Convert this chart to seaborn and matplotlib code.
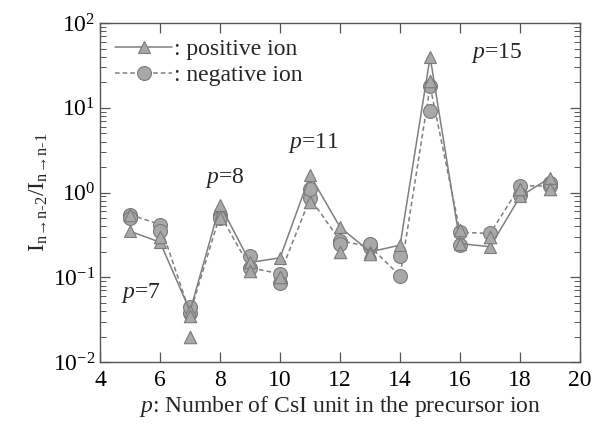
import numpy as np
import pandas as pd
import matplotlib
matplotlib.use("Agg")
import matplotlib.pyplot as plt
import seaborn as sns
from matplotlib.ticker import LogLocator, NullFormatter, FixedLocator

# Precursor size p
p_units = [5, 6, 7, 8, 9, 10, 11, 12, 13, 14, 15, 16, 17, 18, 19]

# Intensity ratio I(n->n-2)/I(n->n-1), connected run
pos_main = [0.35, 0.26, 0.040, 0.72, 0.15, 0.17, 1.6, 0.39, 0.20, 0.24, 40.0, 0.25, 0.23, 0.90, 1.5]
neg_main = [0.55, 0.42, 0.038, 0.55, 0.13, 0.11, 0.86, 0.27, 0.23, 0.104, 18.0, 0.34, 0.33, 1.2, 1.2]

# Additional measurements (markers only)
pos_extra_p = [5, 6, 7, 7, 8, 9, 10, 11, 12, 13, 15, 16, 17, 18, 19]
pos_extra = [0.55, 0.30, 0.020, 0.035, 0.50, 0.12, 0.10, 0.78, 0.20, 0.19, 21.0, 0.36, 0.30, 1.1, 1.1]
neg_extra_p = [5, 6, 7, 8, 9, 10, 11, 12, 13, 14, 15, 16, 18, 19]
neg_extra = [0.50, 0.35, 0.045, 0.50, 0.18, 0.085, 1.1, 0.25, 0.25, 0.18, 9.1, 0.24, 0.95, 1.3]

legend_labels = [": positive ion", ": negative ion"]
xlabel_text = "$p$: Number of CsI unit in the precursor ion"
ylabel_text = r"I$_{\mathrm{n\!\rightarrow\!n\text{-}2}}$/I$_{\mathrm{n\!\rightarrow\!n\text{-}1}}$"

sns.set_style("ticks")
plt.rcParams["font.family"] = ["Liberation Serif", "DejaVu Serif"]
plt.rcParams["mathtext.fontset"] = "custom"
plt.rcParams["mathtext.rm"] = "Liberation Serif"
plt.rcParams["mathtext.it"] = "Liberation Serif:italic"

FS = 17

main = pd.DataFrame({
    "p": p_units * 2,
    "ratio": pos_main + neg_main,
    "ion": ["positive"] * len(p_units) + ["negative"] * len(p_units),
})
pos_df = pd.DataFrame({"p": pos_extra_p, "ratio": pos_extra})
neg_df = pd.DataFrame({"p": neg_extra_p, "ratio": neg_extra})

fig = plt.figure(figsize=(5.92, 4.29), dpi=100)
ax = fig.add_axes([0.169, 0.156, 0.811, 0.79])

line_col = "#7f7f7f"
fill_col = "#a8a8a8"
edge_col = "#7a7a7a"

neg = main[main.ion == "negative"]
pos = main[main.ion == "positive"]

sns.lineplot(data=neg, x="p", y="ratio", ax=ax, color=line_col, lw=1.1,
             linestyle=(0, (3, 2)), marker="o", markersize=10,
             markerfacecolor=fill_col, markeredgecolor=edge_col,
             markeredgewidth=0.8, label=legend_labels[1], zorder=3)
sns.scatterplot(data=neg_df, x="p", y="ratio", ax=ax, marker="o", s=100,
                color=fill_col, edgecolor=edge_col, linewidth=0.8, zorder=3)
sns.lineplot(data=pos, x="p", y="ratio", ax=ax, color=line_col, lw=1.1,
             linestyle="-", marker="^", markersize=9,
             markerfacecolor=fill_col, markeredgecolor=edge_col,
             markeredgewidth=0.8, label=legend_labels[0], zorder=4)
sns.scatterplot(data=pos_df, x="p", y="ratio", ax=ax, marker="^", s=80,
                color=fill_col, edgecolor=edge_col, linewidth=0.8, zorder=4)

ax.set_yscale("log")
ax.set_xlim(4, 20)
ax.set_ylim(1e-2, 1e2)
ax.xaxis.set_major_locator(FixedLocator([4, 6, 8, 10, 12, 14, 16, 18, 20]))
ax.yaxis.set_major_locator(LogLocator(base=10, numticks=10))
ax.yaxis.set_minor_locator(LogLocator(base=10, subs=np.arange(2, 10), numticks=20))
ax.yaxis.set_minor_formatter(NullFormatter())

ax.tick_params(which="both", direction="in", top=True, right=True,
               colors="#555555", labelcolor="black", labelsize=FS)
ax.tick_params(which="major", length=7, width=0.9)
ax.tick_params(which="minor", length=4, width=0.7)
ax.tick_params(axis="x", pad=6)
for s in ax.spines.values():
    s.set_color("#555555")
    s.set_linewidth(1.0)

ax.set_xlabel(xlabel_text, fontsize=FS, labelpad=2)
ax.set_ylabel(ylabel_text, fontsize=FS, labelpad=2)

ann_style = dict(fontsize=FS, ha="center", va="center")
ax.text(5.35, 0.065, "$p$=7", **ann_style)
ax.text(8.15, 1.5, "$p$=8", **ann_style)
ax.text(11.1, 3.8, "$p$=11", **ann_style)
ax.text(17.2, 45, "$p$=15", **ann_style)

handles, labels = ax.get_legend_handles_labels()
order = [labels.index(legend_labels[0]), labels.index(legend_labels[1])]
ax.legend([handles[i] for i in order], [labels[i] for i in order],
          loc="upper left", frameon=False, fontsize=FS, handlelength=2.4,
          handletextpad=0.1, borderaxespad=0.25, labelspacing=0.2)

fig.savefig("out.png", dpi=100)
